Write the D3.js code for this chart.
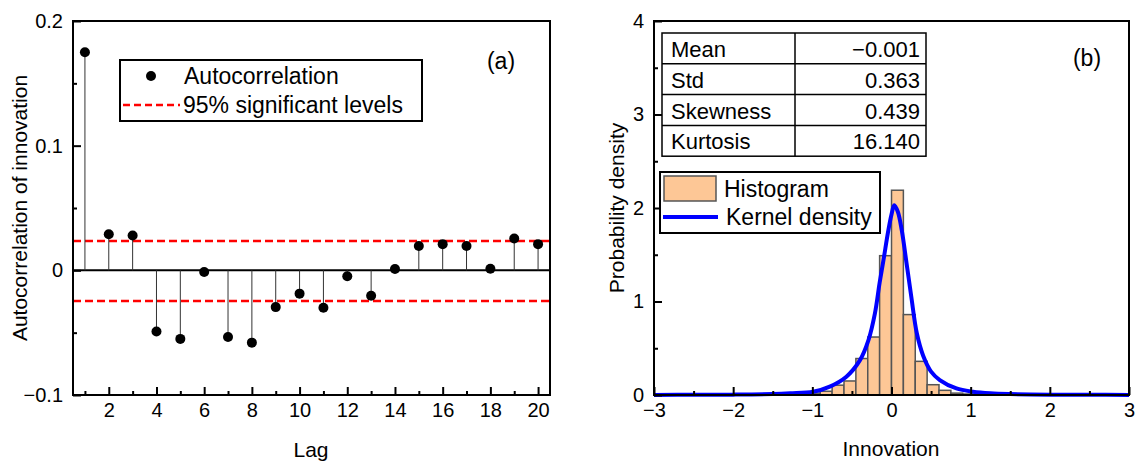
<!DOCTYPE html>
<html>
<head>
<meta charset="utf-8">
<script src="https://cdn.jsdelivr.net/npm/d3@7"></script>
<style>
  body { margin: 0; background: #fff; }
  svg { font-family: "Liberation Sans", Arial, sans-serif; }
</style>
</head>
<body>
<div id="chart"></div>
<script>
// ---- panel (a) data ----
var lags = [1, 2, 3, 4, 5, 6, 7, 8, 9, 10, 11, 12, 13, 14, 15, 16, 17, 18, 19, 20];
var acf = [0.175, 0.029, 0.028, -0.049, -0.055, -0.0013, -0.0535, -0.058, -0.0295, -0.0187,
           -0.030, -0.0048, -0.0204, 0.001, 0.0195, 0.021, 0.0195, 0.0013, 0.0255, 0.021];
var sigLevels = [0.0236, -0.0245];
var acfTicks = [-0.1, 0, 0.1, 0.2];
var acfTickLabels = ["\u22120.1", "0", "0.1", "0.2"];

// ---- panel (b) data ----
var binStart = [-1.2, -1.05, -0.9, -0.75, -0.6, -0.45, -0.3, -0.15, 0, 0.15, 0.3, 0.45, 0.6, 0.75, 0.9];
var binWidth = 0.15;
var binDensity = [0.01, 0.02, 0.04, 0.105, 0.15, 0.39, 0.62, 1.49, 2.19, 0.86, 0.36, 0.11, 0.05, 0.02, 0.01];
var kdeX = [-3, -2.5, -2, -1.5, -1.28, -0.99, -0.78, -0.57, -0.4, -0.29, -0.21, -0.15, -0.1, -0.04, 0, 0.035,
            0.08, 0.13, 0.19, 0.25, 0.32, 0.4, 0.5, 0.61, 0.82, 1.03, 1.25, 1.5, 2, 2.5, 3];
var kdeY = [0.001, 0.002, 0.004, 0.01, 0.018, 0.035, 0.09, 0.196, 0.37, 0.59, 0.87, 1.2, 1.45, 1.76, 1.93, 2.03,
            1.96, 1.76, 1.41, 1.05, 0.66, 0.42, 0.25, 0.16, 0.07, 0.035, 0.018, 0.01, 0.004, 0.002, 0.001];
var statNames = ["Mean", "Std", "Skewness", "Kurtosis"];
var statValues = ["\u22120.001", "0.363", "0.439", "16.140"];

var W = 1137, H = 462;
var svg = d3.select('#chart').append('svg').attr('width', W).attr('height', H);

function frame(g, x0, x1, y0, y1){
  g.append('rect').attr('x', x0).attr('y', y0).attr('width', x1 - x0).attr('height', y1 - y0)
    .attr('fill', 'none').attr('stroke', '#000').attr('stroke-width', 2);
}
function styleAxis(sel, fs){
  sel.select('.domain').remove();
  sel.selectAll('.tick line').attr('stroke', '#000').attr('stroke-width', 2);
  sel.selectAll('.tick text').attr('font-size', fs).attr('fill', '#000')
    .attr('font-family', '"Liberation Sans", Arial, sans-serif');
}

// ================= panel (a) =================
var ax = {l: 73, r: 550, t: 21, b: 395};
var xa = d3.scaleLinear().domain([0.5, 20.5]).range([ax.l, ax.r]);
var ya = d3.scaleLinear().domain([-0.1, 0.2]).range([ax.b, ax.t]);
var ga = svg.append('g');

// sig lines
ga.selectAll('line.sig').data(sigLevels).enter().append('line')
  .attr('x1', ax.l).attr('x2', ax.r).attr('y1', function(d){return ya(d)}).attr('y2', function(d){return ya(d)})
  .attr('stroke', '#ff0000').attr('stroke-width', 2.5).attr('stroke-dasharray', '8,4');
// zero line
ga.append('line').attr('x1', ax.l).attr('x2', ax.r).attr('y1', ya(0)).attr('y2', ya(0))
  .attr('stroke', '#000').attr('stroke-width', 2);
// stems
ga.selectAll('line.stem').data(lags).enter().append('line')
  .attr('x1', function(d){return xa(d)}).attr('x2', function(d){return xa(d)})
  .attr('y1', ya(0)).attr('y2', function(d, i){return ya(acf[i])})
  .attr('stroke', '#333').attr('stroke-width', 1);
ga.selectAll('circle').data(lags).enter().append('circle')
  .attr('cx', function(d){return xa(d)}).attr('cy', function(d, i){return ya(acf[i])})
  .attr('r', 5).attr('fill', '#000');

// axes
ga.append('g').attr('transform', 'translate(0,' + ax.b + ')')
  .call(d3.axisBottom(xa).tickValues(d3.range(2, 21, 2)).tickSize(-8).tickPadding(8))
  .call(styleAxis, 20);
ga.append('g').attr('transform', 'translate(0,' + ax.b + ')')
  .call(d3.axisBottom(xa).tickValues(d3.range(1, 21, 2)).tickSize(-4).tickFormat(''))
  .call(styleAxis, 20);
ga.append('g').attr('transform', 'translate(' + ax.l + ',0)')
  .call(d3.axisLeft(ya).tickValues(acfTicks).tickSize(-8).tickPadding(10)
    .tickFormat(function(d, i){return acfTickLabels[i]}))
  .call(styleAxis, 20);
ga.append('g').attr('transform', 'translate(' + ax.l + ',0)')
  .call(d3.axisLeft(ya).tickValues([-0.05, 0.05, 0.15]).tickSize(-4).tickFormat(''))
  .call(styleAxis, 20);
frame(ga, ax.l, ax.r, ax.t, ax.b);

ga.append('text').attr('x', 311).attr('y', 457).attr('text-anchor', 'middle').attr('font-size', 21).text('Lag');
ga.append('text').attr('transform', 'translate(27,' + ((ax.t + ax.b) / 2) + ') rotate(-90)')
  .attr('text-anchor', 'middle').attr('font-size', 21).text('Autocorrelation of innovation');
ga.append('text').attr('x', 501).attr('y', 69).attr('text-anchor', 'middle').attr('font-size', 23).text('(a)');

// legend (a)
var la = ga.append('g');
la.append('rect').attr('x', 120).attr('y', 60).attr('width', 302).attr('height', 61)
  .attr('fill', '#fff').attr('stroke', '#000').attr('stroke-width', 2);
la.append('circle').attr('cx', 151).attr('cy', 76).attr('r', 5).attr('fill', '#000');
la.append('text').attr('x', 184).attr('y', 84).attr('font-size', 23).text('Autocorrelation');
la.append('line').attr('x1', 123).attr('x2', 180).attr('y1', 105).attr('y2', 105)
  .attr('stroke', '#ff0000').attr('stroke-width', 2.5).attr('stroke-dasharray', '7,4');
la.append('text').attr('x', 183).attr('y', 113).attr('font-size', 23).text('95% significant levels');

// ================= panel (b) =================
var bx = {l: 654, r: 1129, t: 21, b: 395};
var xb = d3.scaleLinear().domain([-3, 3]).range([bx.l, bx.r]);
var yb = d3.scaleLinear().domain([0, 4]).range([bx.b, bx.t]);
var gb = svg.append('g');

gb.selectAll('rect.bar').data(binStart).enter().append('rect')
  .attr('x', function(d){return xb(d)}).attr('width', function(d){return xb(d + binWidth) - xb(d)})
  .attr('y', function(d, i){return yb(binDensity[i])})
  .attr('height', function(d, i){return yb(0) - yb(binDensity[i])})
  .attr('fill', '#fdc796').attr('stroke', '#555').attr('stroke-width', 1.5);

var kdeLine = d3.line()
  .x(function(d){return xb(d)}).y(function(d, i){return yb(kdeY[i])})
  .curve(d3.curveCatmullRom);
gb.append('path').attr('d', kdeLine(kdeX)).attr('fill', 'none')
  .attr('stroke', '#0000ff').attr('stroke-width', 4);

gb.append('g').attr('transform', 'translate(0,' + bx.b + ')')
  .call(d3.axisBottom(xb).tickValues(d3.range(-3, 4, 1)).tickSize(-8).tickPadding(8)
    .tickFormat(function(d){return d < 0 ? '\u2212' + Math.abs(d) : d}))
  .call(styleAxis, 20);
gb.append('g').attr('transform', 'translate(0,' + bx.b + ')')
  .call(d3.axisBottom(xb).tickValues([-2.5, -1.5, -0.5, 0.5, 1.5, 2.5]).tickSize(-4).tickFormat(''))
  .call(styleAxis, 20);
gb.append('g').attr('transform', 'translate(' + bx.l + ',0)')
  .call(d3.axisLeft(yb).tickValues([0, 1, 2, 3, 4]).tickSize(-8).tickPadding(10).tickFormat(d3.format('d')))
  .call(styleAxis, 20);
gb.append('g').attr('transform', 'translate(' + bx.l + ',0)')
  .call(d3.axisLeft(yb).tickValues([0.5, 1.5, 2.5, 3.5]).tickSize(-4).tickFormat(''))
  .call(styleAxis, 20);
frame(gb, bx.l, bx.r, bx.t, bx.b);

gb.append('text').attr('x', 891).attr('y', 456).attr('text-anchor', 'middle').attr('font-size', 21).text('Innovation');
gb.append('text').attr('transform', 'translate(624,' + ((bx.t + bx.b) / 2) + ') rotate(-90)')
  .attr('text-anchor', 'middle').attr('font-size', 21).text('Probability density');
gb.append('text').attr('x', 1087).attr('y', 66).attr('text-anchor', 'middle').attr('font-size', 23).text('(b)');

// stats table
var tb = gb.append('g');
var rowTop = 33, rowH = 30.8;
tb.append('rect').attr('x', 662).attr('y', rowTop).attr('width', 264).attr('height', rowH * 4)
  .attr('fill', '#fff').attr('stroke', '#000').attr('stroke-width', 1.5);
tb.append('line').attr('x1', 795).attr('x2', 795).attr('y1', rowTop).attr('y2', rowTop + rowH * 4)
  .attr('stroke', '#000').attr('stroke-width', 1.5);
statNames.forEach(function(n, i){
  if (i > 0) tb.append('line').attr('x1', 662).attr('x2', 926)
    .attr('y1', rowTop + rowH * i).attr('y2', rowTop + rowH * i).attr('stroke', '#000').attr('stroke-width', 1.5);
  tb.append('text').attr('x', 671).attr('y', rowTop + rowH * i + 24).attr('font-size', 22).text(n);
  tb.append('text').attr('x', 920).attr('y', rowTop + rowH * i + 24).attr('font-size', 22)
    .attr('text-anchor', 'end').text(statValues[i]);
});

// legend (b)
var lb = gb.append('g');
lb.append('rect').attr('x', 660).attr('y', 172).attr('width', 220).attr('height', 61)
  .attr('fill', '#fff').attr('stroke', '#000').attr('stroke-width', 2);
lb.append('rect').attr('x', 664).attr('y', 176).attr('width', 52).attr('height', 25)
  .attr('fill', '#fdc796').attr('stroke', '#555').attr('stroke-width', 1.5);
lb.append('text').attr('x', 724).attr('y', 197).attr('font-size', 23).text('Histogram');
lb.append('line').attr('x1', 663).attr('x2', 718).attr('y1', 217).attr('y2', 217)
  .attr('stroke', '#0000ff').attr('stroke-width', 4);
lb.append('text').attr('x', 726).attr('y', 225).attr('font-size', 23).text('Kernel density');
</script>
</body>
</html>
